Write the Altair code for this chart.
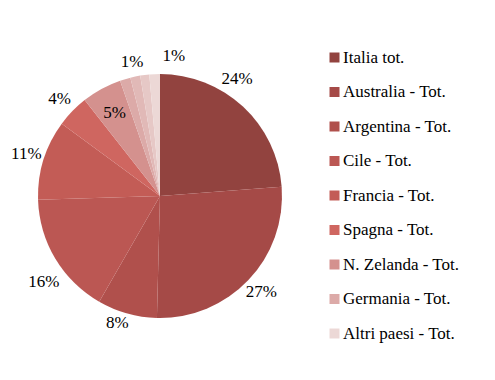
import altair as alt
import pandas as pd

categories = ["Italia tot.", "Australia - Tot.", "Argentina - Tot.", "Cile - Tot.",
              "Francia - Tot.", "Spagna - Tot.", "N. Zelanda - Tot.", "Germania - Tot.",
              "Altro A", "Altro B", "Altri paesi - Tot."]
values = [23.8, 26.6, 7.9, 16.2, 10.6, 4.3, 5.3, 1.4, 1.3, 1.2, 1.4]
colors = ["#92433f", "#a54a47", "#b0504c", "#bb5753", "#c35c56", "#cf6660",
          "#d4918e", "#dcaaa8", "#e1b9b7", "#e6c8c6", "#ecd8d6"]
legend_items = ["Italia tot.", "Australia - Tot.", "Argentina - Tot.", "Cile - Tot.",
                "Francia - Tot.", "Spagna - Tot.", "N. Zelanda - Tot.", "Germania - Tot.",
                "Altri paesi - Tot."]

# label placement style: (radius, dx, dy) per labelled slice
label_style = {
    "Italia tot.": (140, -18, -14),
    "Australia - Tot.": (140, 0, 0),
    "Argentina - Tot.": (140, -5, -8),
    "Cile - Tot.": (140, 4, 14),
    "Francia - Tot.": (140, 0, 0),
    "Spagna - Tot.": (140, 0, 0),
    "N. Zelanda - Tot.": (95, 0, 0),
    "Germania - Tot.": (140, 12, 0),
    "Altri paesi - Tot.": (140, 20, 0),
}

lab = [f"{round(v)}%" for v in values]
df = pd.DataFrame({
    "paese": categories,
    "quota": values,
    "ordine": list(range(len(categories))),
})
for c in label_style:
    df["lab_" + str(categories.index(c))] = [l if cc == c else "" for cc, l in zip(categories, lab)]

FONT = "Liberation Serif, DejaVu Serif, serif"
FS = 17

base = alt.Chart(df).encode(
    theta=alt.Theta("quota:Q", stack=True),
    order=alt.Order("ordine:Q"),
)

arcs = base.mark_arc(outerRadius=122).encode(
    color=alt.Color(
        "paese:N",
        scale=alt.Scale(domain=categories, range=colors),
        legend=alt.Legend(
            values=legend_items, title=None, orient="none", legendX=318, legendY=21,
            symbolType="square", symbolSize=100, symbolStrokeWidth=0,
            labelFont=FONT, labelFontSize=FS, labelColor="#000000",
            rowPadding=16.5, labelLimit=300, labelOffset=0,
        ),
    )
)

layers = [arcs]
for c, (r, dx, dy) in label_style.items():
    field = "lab_" + str(categories.index(c))
    layers.append(
        base.mark_text(radius=r, dx=dx, dy=dy, font=FONT, fontSize=FS, color="#000000")
        .encode(text=alt.Text(field + ":N"))
    )

chart = alt.layer(*layers).properties(
    width=304, height=336,
    autosize="none",
    padding={"left": 0, "top": 20, "right": 175, "bottom": 8},
).configure_view(stroke=None).configure(background="#ffffff", font=FONT)

chart.save("out.html", embed_options={"renderer": "svg", "actions": False})
